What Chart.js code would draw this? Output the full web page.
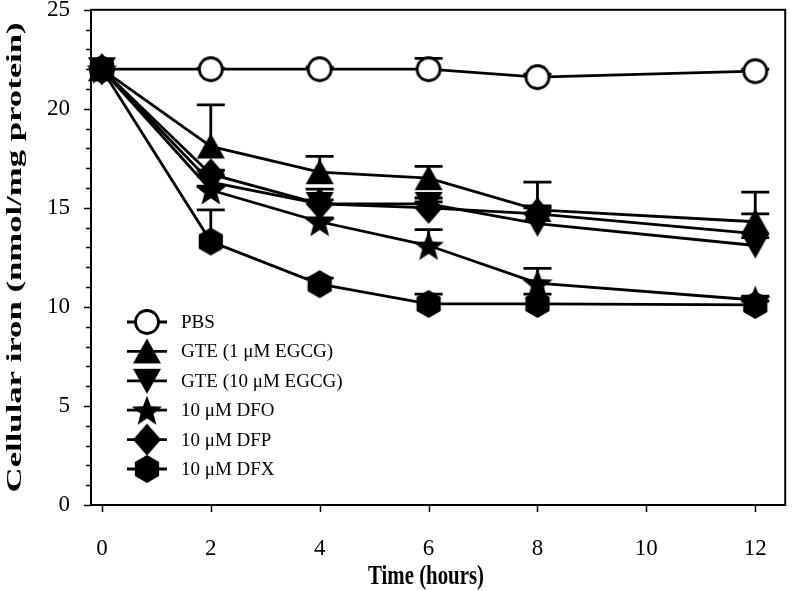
<!DOCTYPE html>
<html>
<head>
<meta charset="utf-8">
<script src="https://cdn.jsdelivr.net/npm/chart.js@4/dist/chart.umd.min.js"></script>
<style>
html,body{margin:0;padding:0;background:#fff;overflow:hidden;}
#outer{width:800px;height:591px;overflow:hidden;position:relative;}
#wrap{width:800px;height:596px;position:absolute;left:0;top:-5px;}
</style>
</head>
<body>
<div id="outer"><div id="wrap"><canvas id="c"></canvas></div></div>
<script>
// ---- data ----
const timeHours = [0, 2, 4, 6, 8, 12];
const seriesLabels = ['PBS', 'GTE (1 \u03bcM EGCG)', 'GTE (10 \u03bcM EGCG)', '10 \u03bcM DFO', '10 \u03bcM DFP', '10 \u03bcM DFX'];
const pbs   = [22.0, 22.0, 22.0, 22.0, 21.6, 21.9];
const gte1  = [22.0, 18.1, 16.8, 16.5, 14.9, 14.3];
const gte10 = [22.0, 16.3, 15.2, 15.2, 14.2, 13.1];
const dfo   = [22.0, 15.9, 14.3, 13.1, 11.2, 10.35];
const dfp   = [22.0, 16.7, 15.2, 15.0, 14.7, 13.7];
const dfx   = [22.0, 13.3, 11.15, 10.15, 10.15, 10.1];
const pbsErr   = [0, 0.05, 0.1, 0.55, 0.15, 0.1];
const gte1Err  = [0, 2.1, 0.8, 0.6, 1.4, 1.5];
const gte10Err = [0, 0.3, 0.75, 0.3, 0.9, 0.4];
const dfoErr   = [0, 0.2, 0.2, 0.8, 0.75, 0.2];
const dfpErr   = [0, 0.2, 0.2, 0.3, 0.3, 1.0];
const dfxErr   = [0, 1.6, 0.3, 0.5, 0.5, 0.2];
const xTickValues = [0, 2, 4, 6, 8, 10, 12];
const yTickValues = [0, 5, 10, 15, 20, 25];
const xTitle = 'Time (hours)';
const yTitle = 'Cellular iron (nmol/mg protein)';

// ---- marker images ----
function mk(w, h, draw) {
  const c = document.createElement('canvas');
  c.width = w; c.height = h;
  const g = c.getContext('2d');
  draw(g, w / 2, h / 2);
  return c;
}
const mCircle = mk(30, 30, (g, cx, cy) => {
  g.beginPath(); g.arc(cx, cy, 11.5, 0, Math.PI * 2);
  g.fillStyle = '#fff'; g.fill(); g.lineWidth = 2.8; g.strokeStyle = '#000'; g.stroke();
});
const mTriUp = mk(30, 28, (g, cx, cy) => {
  g.beginPath(); g.moveTo(cx, cy - 13); g.lineTo(cx + 14, cy + 12); g.lineTo(cx - 14, cy + 12); g.closePath();
  g.fillStyle = '#000'; g.fill();
});
const mTriDown = mk(30, 28, (g, cx, cy) => {
  g.beginPath(); g.moveTo(cx, cy + 13); g.lineTo(cx + 14, cy - 12); g.lineTo(cx - 14, cy - 12); g.closePath();
  g.fillStyle = '#000'; g.fill();
});
const mStar = mk(34, 34, (g, cx, cy) => {
  g.beginPath();
  for (let i = 0; i < 10; i++) {
    const r = i % 2 === 0 ? 16 : 6.8;
    const a = -Math.PI / 2 + i * Math.PI / 5;
    const px = cx + r * Math.cos(a), py = cy + 1.5 + r * Math.sin(a);
    if (i === 0) g.moveTo(px, py); else g.lineTo(px, py);
  }
  g.closePath(); g.fillStyle = '#000'; g.fill();
});
const mDiamond = mk(30, 34, (g, cx, cy) => {
  g.beginPath(); g.moveTo(cx, cy - 16); g.lineTo(cx + 14, cy); g.lineTo(cx, cy + 16); g.lineTo(cx - 14, cy); g.closePath();
  g.fillStyle = '#000'; g.fill();
});
const mHex = mk(28, 30, (g, cx, cy) => {
  g.beginPath();
  for (let i = 0; i < 6; i++) {
    const a = -Math.PI / 2 + i * Math.PI / 3;
    const px = cx + 14 * Math.cos(a), py = cy + 14 * Math.sin(a);
    if (i === 0) g.moveTo(px, py); else g.lineTo(px, py);
  }
  g.closePath(); g.fillStyle = '#000'; g.fill();
});

const values = [pbs, gte1, gte10, dfo, dfp, dfx];
const errors = [pbsErr, gte1Err, gte10Err, dfoErr, dfpErr, dfxErr];
const markers = [mCircle, mTriUp, mTriDown, mStar, mDiamond, mHex];

const datasets = values.map((arr, k) => ({
  label: seriesLabels[k],
  data: timeHours.map((t, i) => ({ x: t, y: arr[i] })),
  errors: errors[k],
  borderColor: '#000',
  borderWidth: 2.8,
  pointStyle: markers[k],
  pointRadius: 12,
  fill: false,
  tension: 0,
  clip: false,
  order: 6 - k
}));

const SERIF = '"Liberation Serif", "Times New Roman", serif';
const SHIFT = 5; // canvas is shifted up by this many px

// frame, ticks, error bars, titles, legend
const framePlugin = {
  id: 'frame',
  beforeDatasetsDraw(chart) {
    const { ctx, chartArea: a, scales } = chart;
    ctx.save();
    ctx.strokeStyle = '#000';
    ctx.lineWidth = 2;
    ctx.strokeRect(a.left, a.top, a.right - a.left, a.bottom - a.top);
    ctx.lineWidth = 1.5;
    for (let v = scales.y.min; v <= scales.y.max; v += 1) {
      const py = Math.round(scales.y.getPixelForValue(v)) + 0.5;
      const len = v % 5 === 0 ? 7 : 5;
      ctx.beginPath(); ctx.moveTo(a.left - len, py); ctx.lineTo(a.left, py); ctx.stroke();
    }
    for (const v of xTickValues) {
      const px = Math.round(scales.x.getPixelForValue(v)) + 0.5;
      ctx.beginPath(); ctx.moveTo(px, a.bottom); ctx.lineTo(px, a.bottom + 7); ctx.stroke();
    }
    ctx.lineWidth = 2.8;
    chart.data.datasets.forEach((ds) => {
      ds.data.forEach((p, i) => {
        const e = ds.errors[i];
        if (!e) return;
        const px = scales.x.getPixelForValue(p.x);
        const y0 = scales.y.getPixelForValue(p.y);
        const y1 = scales.y.getPixelForValue(p.y + e);
        ctx.beginPath();
        ctx.moveTo(px, y0); ctx.lineTo(px, y1);
        ctx.moveTo(px - 14, y1); ctx.lineTo(px + 14, y1);
        ctx.stroke();
      });
    });
    ctx.restore();
  },
  afterDraw(chart) {
    const { ctx, chartArea: a } = chart;
    // y title (stretched along its length like the original)
    ctx.save();
    ctx.font = 'bold 22px ' + SERIF;
    ctx.fillStyle = '#000';
    ctx.textAlign = 'center';
    ctx.textBaseline = 'middle';
    const w = ctx.measureText(yTitle).width;
    ctx.translate(15, (a.top + a.bottom) / 2);
    ctx.rotate(-Math.PI / 2);
    ctx.scale(470 / w, 1);
    ctx.fillText(yTitle, 0, 0);
    ctx.restore();
    // x title
    ctx.save();
    ctx.font = 'bold 22px ' + SERIF;
    ctx.fillStyle = '#000';
    ctx.textAlign = 'center';
    ctx.textBaseline = 'middle';
    const wx = ctx.measureText(xTitle).width;
    ctx.translate(426, 577 + SHIFT);
    ctx.scale(116 / wx, 1.25);
    ctx.fillText(xTitle, 0, 0);
    ctx.restore();
    // legend
    ctx.save();
    ctx.font = '19px ' + SERIF;
    ctx.fillStyle = '#000';
    ctx.textAlign = 'left';
    ctx.textBaseline = 'middle';
    chart.data.datasets.forEach((ds, k) => {
      const ry = 322 + SHIFT + k * 29.4;
      ctx.strokeStyle = '#000'; ctx.lineWidth = 2.8;
      ctx.beginPath(); ctx.moveTo(127, ry); ctx.lineTo(167, ry); ctx.stroke();
      const img = ds.pointStyle;
      ctx.drawImage(img, 147 - img.width / 2, ry - img.height / 2);
      ctx.fillText(ds.label, 181, ry + 1);
    });
    ctx.restore();
  }
};

new Chart(document.getElementById('c'), {
  type: 'line',
  data: { datasets },
  options: {
    responsive: true,
    maintainAspectRatio: false,
    animation: false,
    devicePixelRatio: 1,
    layout: { padding: { top: 5, right: 8, left: 0, bottom: 0 } },
    plugins: { legend: { display: false }, tooltip: { enabled: false } },
    scales: {
      x: {
        type: 'linear', min: -0.2, max: 12.55,
        afterBuildTicks: s => { s.ticks = xTickValues.map(v => ({ value: v })); },
        afterFit: s => { s.height = 86; s.paddingLeft = 0; s.paddingRight = 0; s.paddingTop = 0; s.paddingBottom = 0; },
        grid: { display: false, drawTicks: false },
        border: { display: false },
        ticks: { color: '#000', font: { family: SERIF, size: 23 }, padding: 30, maxRotation: 0 },
        title: { display: false }
      },
      y: {
        min: 0, max: 25,
        afterBuildTicks: s => { s.ticks = yTickValues.map(v => ({ value: v })); },
        afterFit: s => { s.width = 91; s.paddingTop = 0; s.paddingBottom = 0; s.paddingLeft = 0; s.paddingRight = 0; },
        grid: { display: false, drawTicks: false },
        border: { display: false },
        ticks: { color: '#000', font: { family: SERIF, size: 23 }, padding: 21 }
      }
    }
  },
  plugins: [framePlugin]
});
</script>
</body>
</html>
